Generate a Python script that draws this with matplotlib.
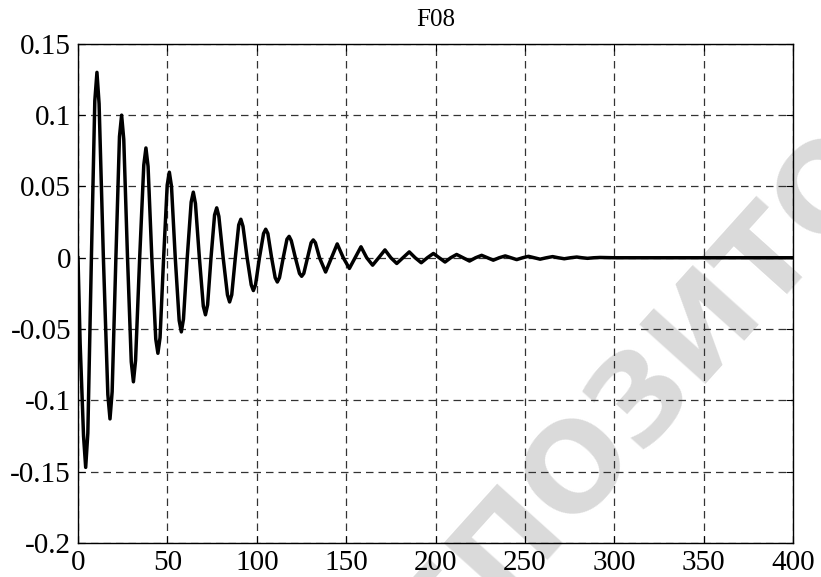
import matplotlib
matplotlib.use("Agg")
import matplotlib.pyplot as plt

# затухающий сигнал F08, точки
t = [0, 1.2, 3.1, 4.3, 5.5, 7.5,
     9.4, 10.6, 11.8, 14.2,
     16.7, 17.9, 19.1, 21.2,
     23.2, 24.4, 25.6, 27.7,
     29.8, 31.0, 32.2, 34.5,
     36.8, 38.0, 39.2, 41.3,
     43.5, 44.7, 45.9, 47.9,
     49.9, 51.1, 52.3, 54.4,
     56.6, 57.8, 59.0, 61.1,
     63.3, 64.5, 65.7, 67.9,
     70.1, 71.3, 72.5, 74.4,
     76.4, 77.6, 78.8, 81.2,
     83.6, 84.8, 86.0, 88.0,
     89.9, 91.1, 92.3, 94.6,
     96.9, 98.1, 99.3, 101.5,
     103.8, 105.0, 106.2, 108.3,
     110.3, 111.5, 112.7, 114.8,
     116.9, 118.1, 119.3, 121.6,
     123.9, 125.1, 126.3, 128.4,
     130.4, 131.6, 132.8, 135.1,
     138.5, 141.8, 145.0, 148.4, 151.8, 155.0, 158.3, 161.5,
     164.8, 168.2, 171.7, 175.0, 178.3, 181.8, 185.3, 188.6,
     192.0, 195.4, 198.8, 202.0, 205.3, 208.5, 211.8, 215.4,
     219.0, 222.4, 225.8, 229.0, 232.3, 235.6, 239.0, 242.2,
     245.4, 248.7, 252.0, 255.2, 258.5, 262.0, 265.5, 268.7,
     272.0, 275.5, 279.0, 282.0, 285.0, 288.5, 292.0, 300.0, 400.0]
f08 = [0, -0.060, -0.125, -0.147, -0.123, 0.0,
       0.110, 0.130, 0.108, 0.0,
       -0.096, -0.113, -0.094, 0.0,
       0.085, 0.100, 0.083, 0.0,
       -0.073, -0.087, -0.072, 0.0,
       0.065, 0.077, 0.064, 0.0,
       -0.057, -0.067, -0.056, 0.0,
       0.051, 0.060, 0.050, 0.0,
       -0.044, -0.052, -0.043, 0.0,
       0.039, 0.046, 0.038, 0.0,
       -0.034, -0.040, -0.033, 0.0,
       0.030, 0.035, 0.029, 0.0,
       -0.026, -0.031, -0.026, 0.0,
       0.023, 0.027, 0.022, 0.0,
       -0.019, -0.023, -0.019, 0.0,
       0.017, 0.020, 0.017, 0.0,
       -0.014, -0.017, -0.014, 0.0,
       0.013, 0.015, 0.012, 0.0,
       -0.011, -0.013, -0.011, 0.0,
       0.0105, 0.0125, 0.0105, 0.0,
       -0.0100, 0.0, 0.0097, 0.0, -0.0075, 0.0, 0.0077, 0.0,
       -0.0052, 0.0, 0.0055, 0.0, -0.0040, 0.0, 0.0041, 0.0,
       -0.0035, 0.0, 0.0030, 0.0, -0.0030, 0.0, 0.0023, 0.0,
       -0.0023, 0.0, 0.0017, 0.0, -0.0017, 0.0, 0.0013, 0.0,
       -0.0013, 0.0, 0.0010, 0.0, -0.0010, 0.0, 0.0008, 0.0,
       -0.0007, 0.0, 0.0005, 0.0, -0.0004, 0.0, 0.0002, 0.0, 0.0]

xticks = [0, 50, 100, 150, 200, 250, 300, 350, 400]
yticks = [-0.2, -0.15, -0.1, -0.05, 0, 0.05, 0.1, 0.15]
ylabels = ['-0.2', '-0.15', '-0.1', '-0.05', '0', '0.05', '0.1', '0.15']

plt.rcParams['font.family'] = ['Liberation Serif', 'DejaVu Serif']

fig = plt.figure(figsize=(8.21, 5.77), dpi=100)
ax = fig.add_axes([0.095, 0.059, 0.871, 0.865])

# водяной знак
ax.text(0.865, 0.45, 'РЕПОЗИТОРИЙ', transform=fig.transFigure,
        rotation=48, ha='center', va='center', fontsize=88,
        fontweight='bold', family='DejaVu Sans', color='#dadada',
        zorder=0.1, clip_on=False)

ax.plot(t, f08, color='black', linewidth=2.5, zorder=3)

ax.set_xlim(0, 400)
ax.set_ylim(-0.2, 0.15)
ax.set_xticks(xticks)
ax.set_xticklabels([str(v) for v in xticks])
ax.set_yticks(yticks)
ax.set_yticklabels(ylabels)
ax.tick_params(direction='in', top=True, right=True, length=5,
               labelsize=21, pad=5)
ax.grid(True, color='0.2', linestyle=(0, (6, 4)), linewidth=0.9)
for s in ax.spines.values():
    s.set_linewidth(1.0)
ax.set_title('F08', fontsize=18, pad=13)

fig.savefig('out.png', dpi=100)
